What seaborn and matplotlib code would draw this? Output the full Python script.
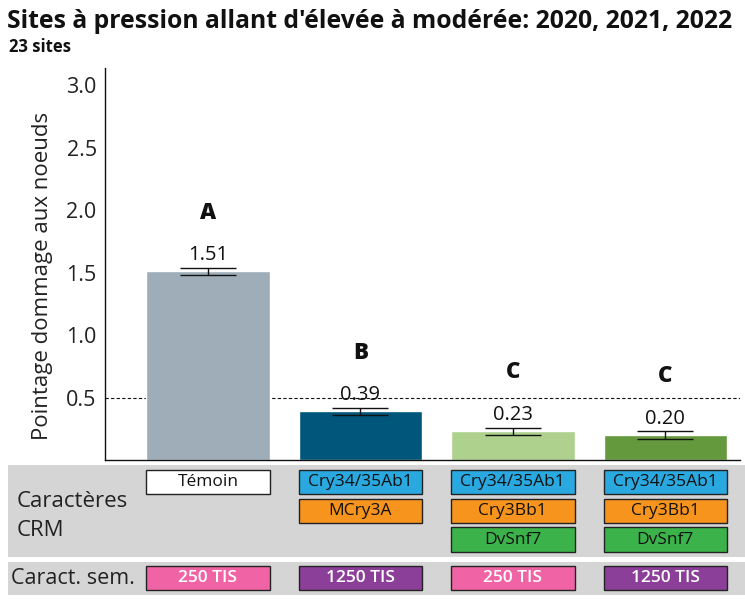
"""Dommage aux noeuds selon les caractères CRM et la semence."""

import matplotlib

matplotlib.use("Agg")

import matplotlib.pyplot as plt
import matplotlib.transforms as mtransforms
import pandas as pd
import seaborn as sns
from matplotlib.patches import Rectangle

groupes = ["Témoin 250 TIS", "SmartStax 1250 TIS", "SmartStax PRO 250 TIS", "SmartStax PRO 1250 TIS"]
moyennes = [1.51, 0.39, 0.23, 0.20]
erreurs = [0.03, 0.03, 0.03, 0.03]
lettres = ["A", "B", "C", "C"]
couleurs_barres = ["#9eadb8", "#00567b", "#aed18e", "#64993e"]
caracteres_crm = [
    ["Témoin"],
    ["Cry34/35Ab1", "MCry3A"],
    ["Cry34/35Ab1", "Cry3Bb1", "DvSnf7"],
    ["Cry34/35Ab1", "Cry3Bb1", "DvSnf7"],
]
caract_sem = ["250 TIS", "1250 TIS", "250 TIS", "1250 TIS"]
seuil = 0.5

couleurs_caract = {
    "Témoin": "#ffffff",
    "Cry34/35Ab1": "#2aa9e0",
    "MCry3A": "#f7941d",
    "Cry3Bb1": "#f7941d",
    "DvSnf7": "#3bb34a",
    "250 TIS": "#f064a5",
    "1250 TIS": "#8c3f98",
}

sns.set_theme(style="white")
plt.rcParams["font.family"] = ["Open Sans", "DejaVu Sans"]

W, H = 745, 599
fig = plt.figure(figsize=(W / 100, H / 100), dpi=100)
ax = fig.add_axes([105 / W, 1 - 460 / H, 635 / W, 392 / H])

df = pd.DataFrame({"groupe": groupes, "moyenne": moyennes})
sns.barplot(
    data=df,
    x="groupe",
    y="moyenne",
    hue="groupe",
    palette=couleurs_barres,
    width=0.81,
    errorbar=None,
    legend=False,
    ax=ax,
    saturation=1,
)
ax.errorbar(
    range(len(groupes)),
    moyennes,
    yerr=erreurs,
    fmt="none",
    ecolor="#111111",
    elinewidth=1,
    capsize=20,
    capthick=1,
)

for i, (val, err, lettre) in enumerate(zip(moyennes, erreurs, lettres)):
    ax.annotate(f"{val:.2f}", xy=(i, val + err), xytext=(0, 2), textcoords="offset points",
                ha="center", va="bottom", fontsize=14.5, color="#111111")
    ax.annotate(lettre, xy=(i, val + err), xytext=(0, 31), textcoords="offset points",
                ha="center", va="bottom", fontsize=16, fontweight="heavy", color="#111111")

ax.axhline(seuil, color="#111111", lw=0.8, ls=(0, (3, 2)), zorder=0.5)

ax.set_xlim(-0.675, 3.49)
ax.set_ylim(0, 3.14)
ax.set_yticks([0.5, 1.0, 1.5, 2.0, 2.5, 3.0])
ax.set_yticklabels(["0.5", "1.0", "1.5", "2.0", "2.5", "3.0"])
ax.tick_params(axis="y", labelsize=15.5, length=0, pad=6, labelcolor="#222222")
ax.set_xticks([])
ax.set_xlabel("")
ax.set_ylabel("Pointage dommage aux noeuds", fontsize=16, color="#222222")
ax.yaxis.set_label_coords(-0.082, 0.47)
for side in ["top", "right"]:
    ax.spines[side].set_visible(False)
for side in ["left", "bottom"]:
    ax.spines[side].set_color("#111111")
    ax.spines[side].set_linewidth(1)

fig.text(7 / W, 1 - 22 / H, "Sites à pression allant d'élevée à modérée: 2020, 2021, 2022",
         fontsize=17.8, fontweight="bold", va="center", ha="left", color="#111111")
fig.text(9 / W, 1 - 47 / H, "23 sites", fontsize=12, fontweight="bold", va="center",
         ha="left", color="#111111")

# tableau des caractères sous le graphique
fig.patches.append(Rectangle((8 / W, 1 - 557 / H), 737 / W, 92 / H, transform=fig.transFigure,
                             facecolor="#d5d5d5", edgecolor="none", zorder=-1))
fig.patches.append(Rectangle((8 / W, 1 - 595 / H), 737 / W, 33 / H, transform=fig.transFigure,
                             facecolor="#d5d5d5", edgecolor="none", zorder=-1))
fig.text(17 / W, 1 - 516 / H, "Caractères\nCRM", fontsize=16, va="center", ha="left",
         color="#222222", linespacing=1.45)
fig.text(11 / W, 1 - 578 / H, "Caract. sem.", fontsize=15.5, va="center", ha="left", color="#222222")

trans = mtransforms.blended_transform_factory(ax.transData, fig.transFigure)
rangs = [(470, 494), (499, 523), (527, 552)]
demi = 0.81 / 2


def boite(x, y_haut, y_bas, texte, couleur_texte, poids="normal"):
    ax.add_patch(Rectangle((x - demi, 1 - y_bas / H), 2 * demi, (y_bas - y_haut) / H,
                           transform=trans, facecolor=couleurs_caract[texte],
                           edgecolor="#222222", lw=1, clip_on=False, zorder=5))
    ax.text(x, 1 - (y_haut + y_bas) / 2 / H, texte, transform=trans, ha="center",
            va="center", fontsize=12.5, color=couleur_texte, fontweight=poids,
            clip_on=False, zorder=6)


for i, traits in enumerate(caracteres_crm):
    for (y0, y1), trait in zip(rangs, traits):
        boite(i, y0, y1, trait, "#111111")
    boite(i, 566, 590, caract_sem[i], "#ffffff", "semibold")

fig.savefig("out.png", dpi=100)
